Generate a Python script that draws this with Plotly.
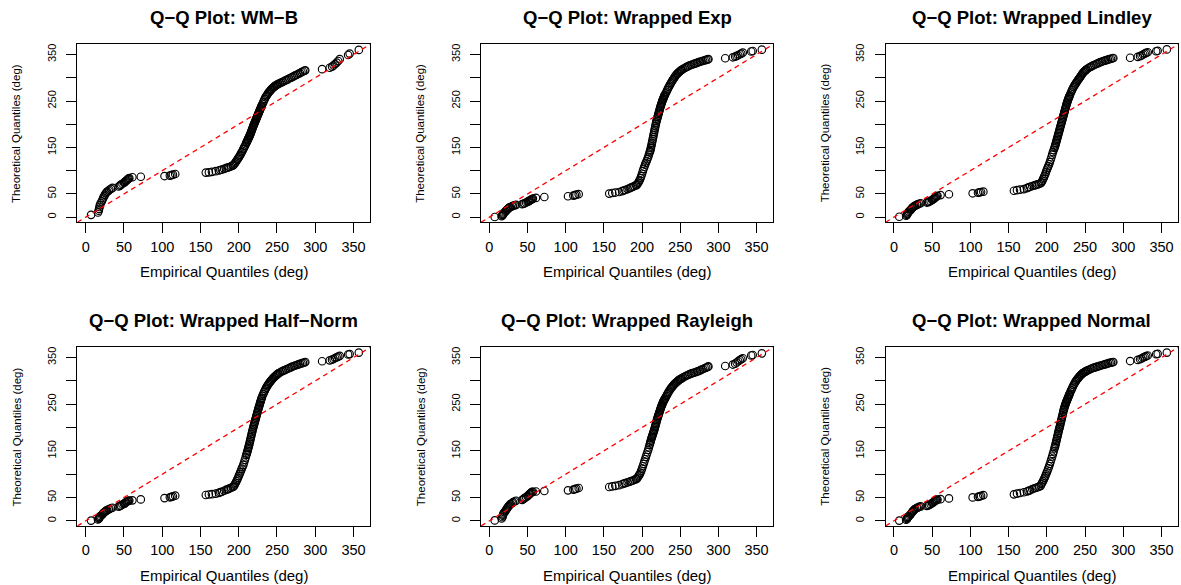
import plotly.graph_objects as go

# ---------------- data ----------------
EMPIRICAL = [
    7, 16, 17, 17.5, 18, 18.5, 19.5, 21, 22, 23, 24, 25, 26, 27, 28, 30, 31, 33, 35,
    43, 45, 46, 48, 50, 51, 52, 53, 54, 55, 56, 57, 61, 72,
    103, 110, 112, 114, 117,
    157, 161, 165, 170, 174, 176, 178, 181, 184, 186, 188, 190, 192,
    193, 194, 195, 196, 197, 198, 199, 200, 201, 202, 203, 204, 205, 206, 207, 208, 209, 210,
    210.5, 211, 211.5, 212, 212.5, 213, 213.5, 214, 214.5, 215, 215.5, 216, 216.5, 217, 217.5,
    218, 218.5, 219, 219.5, 220, 220.5, 221, 221.5, 222, 222.5, 223, 223.5, 224, 224.5, 225,
    225.5, 226, 226.5, 227, 227.5, 228, 228.5, 229, 229.5,
    230, 231, 232, 233, 234, 235, 236, 237, 238, 239, 240, 241, 242, 243, 244, 245, 246, 247,
    248, 249, 250, 251, 252,
    254, 256, 258, 260, 262, 264, 266, 268, 270, 272, 274, 276, 278, 280, 282, 284, 286, 287,
    309, 319, 322, 324, 326, 328, 330, 332, 343, 345, 357,
]

THEO_WMB = [
    5, 10, 14, 18, 22, 26, 30, 34, 38, 42, 45, 48, 51, 53, 55, 57, 59, 61, 63,
    66, 68, 70, 72, 74, 75.5, 77, 78.5, 80, 81.5, 83, 84, 86, 87,
    88.5, 89.5, 90.5, 91.5, 93,
    96, 96.5, 97.5, 99, 100.5, 101.5, 102.5, 104, 106, 107, 108, 109.5, 111,
    112, 114, 116, 118.5, 121, 123.5, 126, 128.5, 131, 134, 137, 140, 143, 146.5, 150, 153, 156.5, 160,
    162, 163.5, 165.5, 167, 169, 171, 172.5, 174.5, 176, 178, 180, 182.5, 184.5, 187, 189,
    191.5, 193.5, 196, 198, 200, 202, 204, 206, 208, 210, 212, 214, 216, 218, 220,
    222, 224, 226, 228, 230, 232, 234, 236, 238,
    240, 243.5, 247, 251, 254.5, 258, 260.5, 263, 265.5, 268, 270, 272, 274, 275.5, 277.5, 279, 280.5, 281.5,
    283, 284, 285, 286, 287,
    288.5, 290, 291.5, 293.5, 295, 296.5, 298.5, 300, 301.5, 303.5, 305, 306.5, 308.5, 310, 312, 313.5, 315, 316,
    318.5, 321.5, 324, 326.5, 329.5, 332.5, 336, 340, 349, 352, 360,
]

THEO_EXP = [
    0.5, 2, 3.5, 5, 6.5, 8, 10, 12, 14, 16, 17.5, 19, 20.5, 21.5, 22.5, 23.5, 24.5, 25.5, 26.5,
    28, 29, 30, 31.5, 33, 34, 35, 36, 37, 38, 39, 40, 41.5, 43.5,
    45, 46.5, 47.5, 48.5, 49.5,
    50.8, 52, 53, 54.3, 56, 57.5, 58.5, 60.5, 62.5, 64, 65.5, 67, 69,
    69, 71.5, 74, 77, 80, 84, 88.5, 93.5, 99, 104, 108.5, 113, 117, 121, 125, 129.5, 134.5, 139.5,
    142, 145, 148.5, 152, 156, 160, 164, 168, 172, 176, 180, 184, 188, 192, 196,
    200, 203.5, 207, 210, 213, 216, 219, 222, 225, 228, 231, 234, 237, 239.5, 242,
    244.5, 247, 249.5, 252, 254, 256, 258, 260, 262,
    263.5, 266.5, 270, 273.5, 277, 280, 283, 286, 289, 292, 294.5, 297, 299.5, 302, 304.5, 306.5, 308.5, 310,
    311.5, 313, 314.5, 316, 317,
    319, 321, 323, 324.5, 326, 327.5, 328.5, 330, 331, 332, 333.5, 334.5, 335.5, 336.5, 337.5, 338.5, 339.5, 340,
    342, 344, 345.5, 347, 348.5, 350.5, 352, 354, 356.5, 357.5, 360.5,
]

THEO_LINDLEY = [
    1, 3, 5, 7, 8.5, 10, 12, 14, 16, 18, 20, 21.5, 23, 24, 25, 26.5, 27.5, 29, 30,
    31.5, 32.5, 33.5, 35, 37, 38, 39.5, 41, 42, 43.5, 45, 46, 47.5, 49.3,
    51.4, 52.5, 53.5, 54.3, 55,
    57, 58.2, 59.2, 60.5, 62.5, 64, 65.5, 67, 68.5, 69.5, 70.5, 71.5, 73,
    75, 78, 81.5, 85, 89, 93, 97.5, 102, 106, 110, 114, 118.5, 123.5, 129, 134.5, 140, 144.5, 149,
    151.5, 154, 157, 160, 163, 166, 169, 172, 175, 178, 181, 184, 187, 190, 193,
    196, 199, 202, 205, 208, 211, 214, 217, 220, 223, 226, 229, 232, 235, 238,
    241, 244, 246.5, 249, 251.5, 254, 256, 258, 260,
    262, 266, 270, 273.5, 277, 280, 283, 285.5, 288, 290.5, 293, 295.5, 298, 300, 302.5, 305, 307.5, 310,
    312, 313.5, 315, 316.5, 318,
    320.5, 322.5, 324, 326, 327.5, 329, 330.5, 332, 333.5, 334.5, 336, 337, 338, 339, 340, 341, 342, 342.5,
    343, 345, 346.5, 348, 350, 352, 353.5, 355, 357, 358, 361,
]

THEO_HALFNORM = [
    0.6, 3, 4.5, 6, 7.5, 9, 10.5, 12.5, 14.5, 16.5, 18, 19.5, 21, 22, 23, 24.5, 25.5, 27, 28,
    30.5, 32, 33, 35, 36.5, 37.5, 39, 40, 41.5, 42.5, 43, 43.5, 44, 46,
    48.8, 50.5, 51.5, 52.5, 54,
    55.4, 56.5, 57.3, 58.3, 60, 61.5, 62.5, 64.5, 67, 68, 69.5, 71, 72.6,
    73, 75.5, 78.5, 81.5, 85, 88.5, 92, 96, 100, 104, 108, 112, 116, 120, 125, 130.5, 136, 141.5,
    144, 147, 150, 153, 156, 159, 162, 165.5, 169, 172.5, 176, 179.5, 183, 186.5, 190,
    193.5, 197, 200, 203, 206, 209, 212, 215, 218, 221, 224, 227, 230, 233, 236,
    239, 242, 244.5, 247, 250, 253, 255.5, 258, 261,
    263.5, 268, 272, 275.5, 279, 282.5, 285.5, 288.5, 291, 293.5, 296, 298, 300, 302, 304, 306, 307.5, 309,
    310.5, 312, 313.5, 315, 316,
    318, 320, 321.5, 323, 324.5, 326, 327.5, 329, 330.5, 332, 333, 334, 335.5, 336.5, 337.5, 338.5, 339.5, 340.4,
    342, 344, 345.5, 347, 349, 350.5, 352, 353.5, 356.5, 357.5, 360.7,
]

THEO_RAYLEIGH = [
    1, 5, 8, 11, 13.5, 16, 18.5, 21, 24, 26.5, 29, 31, 33, 35, 36.5, 38, 40, 41.5, 43,
    45, 47, 49, 51, 53, 55, 56.5, 58, 59.5, 61, 62, 62.5, 63, 64,
    65.4, 67, 68, 69, 70.4,
    72.6, 73.8, 75, 76.5, 78.5, 80, 81, 82.5, 84, 85.5, 86.5, 88, 89.5,
    90, 92.5, 95, 97.5, 100, 103.5, 107.5, 112, 117, 122, 127, 132, 137, 142, 147, 152, 157.5, 163,
    166, 169, 172, 175, 177.5, 180, 182.5, 185, 187.5, 190, 192.5, 195, 198, 201, 204,
    207, 210, 213, 216, 219, 221.5, 224, 226.5, 229, 231.5, 234, 236.5, 239, 241.5, 244,
    246, 248, 250, 252, 254, 256, 257.5, 259, 260.5,
    262, 265, 268, 271, 274, 277, 279.5, 282, 284.5, 286.5, 288.5, 290.5, 292.5, 294, 295.5, 297, 298.5, 300,
    301.5, 302.5, 303.5, 304.5, 305.5,
    307.5, 309.5, 311, 312.5, 314, 315.5, 316.5, 317.5, 318.5, 320, 321, 322.5, 324, 325.5, 327, 328.5, 330, 331,
    332, 335, 337, 339.5, 342, 344.5, 346.5, 348.5, 354.5, 355.5, 359,
]

THEO_NORMAL = [
    0.6, 2.5, 4, 5.5, 7, 8.5, 10, 12, 14.5, 17, 19, 21, 23, 24.5, 26, 27.5, 28.5, 30, 31,
    32, 33, 34, 36, 38, 39, 40.5, 42, 43, 44, 45, 45.5, 46.5, 48.2,
    50.3, 51.5, 52.5, 53.5, 55.3,
    56.8, 58.5, 59.8, 61.3, 63, 64.3, 65.5, 68, 70, 71, 72, 73.5, 75,
    79, 82, 85, 88.5, 92, 96, 100, 104, 108, 112.5, 117, 122, 127, 132.5, 138, 143.5, 149, 155,
    158, 161, 164.5, 168, 171.5, 175, 178.5, 182, 185.5, 189, 192.5, 196, 199, 202, 205.5,
    209, 212.5, 216, 219.5, 223, 226.5, 230, 233.5, 237, 240, 243, 245.5, 248, 250.5, 253,
    255, 257, 259, 261, 263, 265, 267, 269, 271,
    273, 277, 280.5, 284, 287.5, 291, 294, 297, 299.5, 302, 304, 306, 308, 310, 312, 313.5, 315, 316.5,
    317.5, 318.5, 319.5, 320.5, 321.5,
    323, 324.5, 326, 327.5, 328.5, 329.5, 330.5, 331.5, 332.5, 333.5, 334.5, 335.5, 336.5, 337.5, 338.5, 339.2, 340, 340.4,
    342.5, 345, 346.5, 348, 350, 351.5, 353, 354.5, 357, 358, 360.7,
]

PANEL_TITLES = [
    "Q\u2212Q Plot: WM\u2212B",
    "Q\u2212Q Plot: Wrapped Exp",
    "Q\u2212Q Plot: Wrapped Lindley",
    "Q\u2212Q Plot: Wrapped Half\u2212Norm",
    "Q\u2212Q Plot: Wrapped Rayleigh",
    "Q\u2212Q Plot: Wrapped Normal",
]
PANEL_SERIES = [THEO_WMB, THEO_EXP, THEO_LINDLEY, THEO_HALFNORM, THEO_RAYLEIGH, THEO_NORMAL]

TICK_VALUES = [0, 50, 100, 150, 200, 250, 300, 350]
X_TICK_TEXT = ["0", "50", "100", "150", "200", "250", "300", "350"]
Y_TICK_TEXT = ["0", "50", "", "150", "", "250", "", "350"]
X_LABEL = "Empirical Quantiles (deg)"
Y_LABEL = "Theoretical Quantiles (deg)"

for s in PANEL_SERIES:
    assert len(s) == len(EMPIRICAL)

# ---------------- layout (pixels of the 1181 x 585 picture) ----------------
W, H = 1181, 585
COL_LEFT = [77.3, 481.0, 885.5]
COL_RIGHT = [370.3, 773.3, 1178.3]
ROW_TOP = [44.3, 347.3]
ROW_BOTTOM = [222.3, 526.0]
AX_RANGE = [-11, 372]
FONT = "Liberation Sans, Arial, Helvetica, sans-serif"

fig = go.Figure()
shapes = []
annotations = []
layout_axes = {}

for i, ys in enumerate(PANEL_SERIES):
    r, c = divmod(i, 3)
    n = i + 1
    xa = "x" if n == 1 else f"x{n}"
    ya = "y" if n == 1 else f"y{n}"
    xkey = "xaxis" if n == 1 else f"xaxis{n}"
    ykey = "yaxis" if n == 1 else f"yaxis{n}"

    fig.add_trace(go.Scatter(
        x=EMPIRICAL, y=ys, mode="markers", xaxis=xa, yaxis=ya,
        marker=dict(symbol="circle-open", size=7.5, color="black", line=dict(width=1.15, color="black")),
        showlegend=False, hoverinfo="x+y",
    ))

    xd = [COL_LEFT[c] / W, COL_RIGHT[c] / W]
    yd = [1 - ROW_BOTTOM[r] / H, 1 - ROW_TOP[r] / H]

    common = dict(
        range=AX_RANGE, tickmode="array", tickvals=TICK_VALUES,
        ticks="outside", ticklen=10, tickwidth=1, tickcolor="black",
        showline=True, linecolor="black", linewidth=1, mirror=True,
        showgrid=False, zeroline=False, fixedrange=True,
    )
    layout_axes[xkey] = dict(common, domain=xd, anchor=ya, ticktext=X_TICK_TEXT,
                             tickfont=dict(family=FONT, size=14.5, color="black"),
                             ticklabelstandoff=1)
    layout_axes[ykey] = dict(common, domain=yd, anchor=xa, ticktext=Y_TICK_TEXT,
                             tickangle=-90,
                             tickfont=dict(family=FONT, size=11, color="black"),
                             ticklabelstandoff=6)

    # reference line y = x across the plotting region
    shapes.append(dict(type="line", xref=xa, yref=ya,
                       x0=AX_RANGE[0], y0=AX_RANGE[0], x1=AX_RANGE[1], y1=AX_RANGE[1],
                       line=dict(color="red", width=1.3, dash="5px,4px"), layer="above"))

    cx = (COL_LEFT[c] + COL_RIGHT[c]) / 2 / W
    cy = 1 - (ROW_TOP[r] + ROW_BOTTOM[r]) / 2 / H
    annotations.append(dict(text=f"<b>{PANEL_TITLES[i]}</b>", xref="paper", yref="paper",
                            x=cx, y=1 - (ROW_TOP[r] - 26.5) / H, xanchor="center", yanchor="middle",
                            showarrow=False, font=dict(family=FONT, size=18.5, color="black")))
    annotations.append(dict(text=X_LABEL, xref="paper", yref="paper",
                            x=cx, y=1 - (ROW_BOTTOM[r] + 49.4) / H, xanchor="center", yanchor="middle",
                            showarrow=False, font=dict(family=FONT, size=15, color="black")))
    annotations.append(dict(text=Y_LABEL, xref="paper", yref="paper",
                            x=(COL_LEFT[c] - 60.5) / W, y=cy, xanchor="center", yanchor="middle",
                            textangle=-90, showarrow=False,
                            font=dict(family=FONT, size=11.5, color="black")))

fig.update_layout(
    width=W, height=H,
    margin=dict(l=0, r=0, t=0, b=0),
    paper_bgcolor="white", plot_bgcolor="white",
    shapes=shapes, annotations=annotations,
    showlegend=False,
    **layout_axes,
)

fig.write_html(
    "out.html",
    config={"displayModeBar": False},
    post_script="document.body.style.margin='0';document.body.style.padding='0';"
                "document.documentElement.style.overflow='hidden';",
)
